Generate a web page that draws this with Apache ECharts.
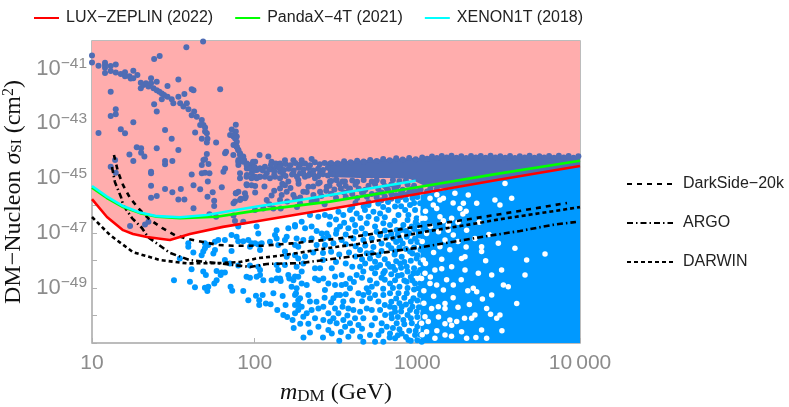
<!DOCTYPE html>
<html>
<head>
<meta charset="utf-8">
<style>html,body{margin:0;padding:0;background:#fff}#c{width:789px;height:407px}</style>
<script src="https://cdn.jsdelivr.net/npm/echarts@6/dist/echarts.min.js"></script>
</head>
<body>
<div id="c"></div>
<script>
// All pairs are [log10(m_DM / GeV), log10(sigma_SI / cm^2)]
const xTicks = {1:'10',2:'100',3:'1000',4:'10\u2009000'};
const yLabelled = [-41,-43,-45,-47,-49];

const luxZeplin = [[1,-45.76],[1.092,-46.41],[1.191,-46.89],[1.252,-47.03],[1.338,-47.14],[1.43,-47.21],[1.479,-47.25],[1.602,-47.03],[1.805,-46.77],[2.033,-46.55],[2.463,-46.12],[3,-45.57],[3.49,-45.06],[4,-44.55]];
const pandaX = [[1,-45.34],[1.092,-45.72],[1.191,-46.05],[1.295,-46.27],[1.40,-46.40],[1.541,-46.45],[1.768,-46.40],[1.91,-46.27],[2.033,-46.16],[2.463,-45.85],[3,-45.33],[3.49,-44.84],[4,-44.36]];
const xenon1T = [[1,-45.28],[1.092,-45.67],[1.191,-46.01],[1.295,-46.25],[1.40,-46.38],[1.541,-46.42],[1.707,-46.34],[1.848,-46.19],[2.033,-46.01],[2.26,-45.81],[2.463,-45.61],[2.99,-45.09]];
const darkSide = [[1.135,-44.15],[1.16,-44.77],[1.191,-45.25],[1.234,-45.72],[1.289,-46.12],[1.35,-46.48],[1.43,-46.81],[1.51,-47.07],[1.59,-47.21],[1.682,-47.32],[1.775,-47.43],[1.867,-47.46],[2.045,-47.46],[2.23,-47.37],[2.494,-47.21],[2.678,-47.07],[2.943,-46.81],[3.121,-46.67],[3.477,-46.34],[3.92,-45.90]];
const darwin = [[1,-46.41],[1.111,-47.07],[1.252,-47.69],[1.418,-47.98],[1.584,-48.10],[1.787,-48.09],[1.91,-48.05],[2.02,-47.91],[2.143,-47.83],[2.266,-47.72],[2.451,-47.54],[2.629,-47.40],[2.844,-47.18],[3.035,-46.96],[3.336,-46.67],[3.551,-46.45],[3.723,-46.30],[4,-46.05]];
const argo = [[1.123,-44.59],[1.141,-45.14],[1.178,-45.68],[1.191,-45.97],[1.246,-46.45],[1.307,-46.81],[1.344,-47.14],[1.479,-47.72],[1.602,-47.98],[1.768,-48.09],[1.971,-48.23],[2.076,-48.12],[2.279,-48.09],[2.475,-47.94],[2.666,-47.80],[2.813,-47.69],[3.035,-47.50],[3.244,-47.29],[3.434,-47.10],[3.631,-46.92],[3.828,-46.70],[3.975,-46.59]];

const darkTop = [[1.00,-40.53],[1.00,-40.78],[1.04,-40.90],[1.08,-40.79],[1.08,-40.87],[1.08,-40.97],[1.08,-41.17],[1.115,-40.91],[1.115,-41.09],[1.146,-40.86],[1.146,-41.15],[1.177,-41.20],[1.203,-41.14],[1.203,-41.28],[1.23,-41.28],[1.238,-41.37],[1.254,-41.08],[1.254,-41.36],[1.279,-41.24],[1.30,-41.52],[1.30,-41.72],[1.316,-41.60],[1.332,-41.54],[1.347,-41.66],[1.363,-41.36],[1.363,-41.54],[1.378,-41.72],[1.398,-41.48],[1.398,-41.79],[1.414,-41.85],[1.429,-41.91],[1.443,-41.97],[1.429,-42.12],[1.464,-41.64],[1.464,-42.03],[1.49,-42.12],[1.50,-42.27],[1.531,-41.40],[1.531,-42.03],[1.568,-41.93],[1.542,-42.27],[1.562,-42.39],[1.583,-42.27],[1.593,-42.49],[1.613,-41.76],[1.624,-41.79],[1.788,-41.76],[1.628,-42.57],[1.644,-42.76],[1.613,-42.70],[1.675,-42.88],[1.685,-43.06],[1.695,-43.15],[1.665,-43.06],[1.706,-43.36],[1.695,-43.30],[1.115,-41.85],[1.382,-40.66],[1.416,-40.55],[1.58,-40.23],[1.683,-40.02],[1.382,-42.30],[1.398,-42.57],[1.146,-42.49],[1.146,-42.67],[1.115,-42.73],[1.254,-42.96],[1.04,-43.35],[1.177,-43.21],[1.203,-43.36],[1.449,-43.24],[1.49,-43.56],[1.634,-43.33],[1.675,-43.56],[1.71,-43.56],[1.884,-43.05],[1.859,-43.22],[1.884,-43.30],[1.849,-43.42],[1.87,-43.48],[1.89,-43.48]];
const darkMiddle = [[1.706,-43.70],[1.763,-43.70],[1.275,-43.87],[1.302,-43.91],[1.302,-44.07],[1.23,-44.13],[1.398,-43.91],[1.531,-43.97],[1.322,-44.21],[1.254,-44.37],[1.115,-44.58],[1.146,-44.80],[1.142,-44.33],[1.363,-44.76],[1.363,-44.82],[1.449,-44.37],[1.449,-44.49],[1.494,-44.37],[1.675,-44.52],[1.685,-44.33],[1.716,-44.48],[1.706,-44.12],[1.695,-44.31],[1.675,-44.82],[1.695,-44.80],[1.722,-44.82],[1.613,-44.86],[1.808,-44.76],[1.818,-44.64],[1.818,-44.09],[1.824,-44.03],[1.363,-45.27],[1.449,-45.39],[1.494,-45.51],[1.546,-45.39],[1.624,-45.25],[1.665,-45.40],[1.742,-45.51],[1.798,-45.33],[1.712,-45.12],[1.363,-45.71],[1.398,-45.65],[1.531,-45.77],[1.568,-45.77],[1.71,-45.67],[1.751,-45.82],[1.751,-46.01],[1.624,-46.09],[1.87,-45.91],[1.884,-45.55],[1.90,-45.49],[1.915,-45.75],[1.945,-45.67],[2.003,-45.52],[2.003,-45.28],[1.952,-45.25],[1.722,-46.31],[1.763,-46.40],[1.87,-46.36],[1.326,-46.68],[1.347,-46.58],[1.234,-46.74],[1.87,-43.42],[1.88,-43.55],[1.89,-43.67],[1.87,-43.79],[1.89,-43.85],[1.90,-43.97],[1.91,-44.09],[1.921,-44.21],[1.935,-44.33],[1.952,-44.46],[1.972,-44.52],[1.992,-44.58],[2.013,-44.70],[2.034,-44.64],[2.003,-44.40],[1.952,-44.64],[1.90,-44.33],[1.90,-44.52],[1.982,-44.82],[1.952,-44.88],[2.003,-44.94],[2.034,-44.94]];
const darkBand = [[1.889,-43.85],[1.899,-43.97],[1.869,-44.15],[1.91,-44.15],[1.93,-44.21],[1.899,-44.40],[1.93,-44.40],[1.95,-44.52],[1.99,-44.40],[2.03,-44.15],[2.084,-44.21],[2.104,-44.40],[1.971,-44.64],[2.002,-44.70],[2.03,-44.64],[2.063,-44.58],[2.074,-44.82],[2.104,-44.64],[2.135,-44.58],[2.156,-44.46],[2.186,-44.34],[2.238,-44.34],[2.289,-44.34],[2.35,-44.30],[2.156,-44.76],[2.125,-44.94],[2.094,-45.00],[2.063,-44.94],[2.03,-44.94],[2.012,-45.00],[1.981,-45.00],[1.95,-44.94],[1.91,-44.82],[1.91,-45.00],[1.95,-45.22],[1.981,-45.25],[1.885,-45.55],[1.94,-45.55],[1.94,-45.73],[1.91,-45.79],[1.879,-45.85],[2.074,-45.79],[2.104,-45.63],[2.156,-45.37],[2.186,-45.25],[2.197,-45.49],[2.166,-45.61],[2.156,-45.79],[2.238,-45.61],[2.248,-45.73],[2.299,-45.49],[2.33,-45.31],[2.371,-45.00],[2.391,-45.19],[2.402,-45.49],[2.361,-45.61],[2.463,-45.12],[2.504,-45.06],[2.555,-45.12],[2.586,-45.37],[2.668,-45.49],[2.75,-45.61],[2.812,-45.37],[2.873,-45.31],[2.279,-45.91],[2.115,-46.10],[2.053,-46.10],[2.002,-46.16],[1.93,-46.58],[1.879,-46.56],[2.381,-45.79],[2.443,-45.31],[2.207,-45.12],[2.268,-45.06],[2.309,-44.94],[2.156,-45.00],[2.176,-44.86],[2.238,-44.82],[2.279,-44.82],[2.34,-44.82],[2.402,-44.82]];
const darkBandFill = [[2.10,-44.52],[2.13,-44.46],[2.16,-44.55],[2.19,-44.48],[2.22,-44.53],[2.25,-44.44],[2.28,-44.50],[2.31,-44.46],[2.34,-44.53],[2.37,-44.42],[2.40,-44.49],[2.43,-44.44],[2.46,-44.48],[2.00,-44.60],[2.05,-44.72],[2.09,-44.68],[2.12,-44.74],[2.15,-44.62],[2.18,-44.70],[2.21,-44.65],[2.24,-44.72],[2.27,-44.62],[2.30,-44.68],[2.33,-44.63],[2.36,-44.72],[2.39,-44.65],[2.42,-44.70],[2.45,-44.62],[2.12,-44.88],[2.19,-44.92],[2.23,-44.86],[2.26,-44.94],[2.30,-44.84],[2.33,-44.90],[2.36,-44.86],[2.39,-44.93],[2.42,-44.85],[2.45,-44.90],[2.48,-44.86],[2.06,-45.30],[2.12,-45.45],[2.17,-45.20],[2.22,-45.35],[2.27,-45.20],[2.32,-45.50],[2.36,-45.30],[2.41,-45.65],[2.28,-45.70],[2.20,-45.85],[2.09,-45.95],[2.35,-45.85],[2.43,-45.95],[2.26,-46.05],[2.16,-46.10],[2.40,-45.15],[2.44,-45.45]];
const darkBandTop = [[2.47,-44.44],[2.51,-44.45],[2.55,-44.38],[2.59,-44.42],[2.63,-44.36],[2.67,-44.39],[2.71,-44.33],[2.75,-44.37],[2.79,-44.30],[2.83,-44.34],[2.87,-44.27],[2.91,-44.32],[2.95,-44.26],[2.99,-44.31],[3.03,-44.24],[3.06,-44.29],[3.09,-44.21],[3.12,-44.26],[3.15,-44.19],[3.18,-44.24],[3.21,-44.18],[3.24,-44.25],[3.27,-44.20],[3.30,-44.26],[3.33,-44.19],[3.36,-44.24],[3.39,-44.19],[3.42,-44.25],[3.45,-44.18],[3.48,-44.24],[3.51,-44.20],[3.54,-44.25],[3.57,-44.19],[3.60,-44.26],[3.63,-44.20],[3.66,-44.24],[3.69,-44.18],[3.72,-44.25],[3.75,-44.20],[3.78,-44.24],[3.81,-44.19],[3.84,-44.25],[3.87,-44.18],[3.90,-44.24],[3.93,-44.19],[3.96,-44.25],[3.99,-44.20]];
const darkBandLower = [[2.47,-45.10],[2.50,-45.05],[2.54,-45.12],[2.60,-45.08],[2.63,-45.13],[2.67,-45.06],[2.72,-45.12],[2.75,-45.07],[2.79,-45.13],[2.85,-45.06],[2.89,-45.11],[2.93,-45.08],[2.46,-45.27],[2.52,-45.22],[2.56,-45.28],[2.62,-45.24],[2.70,-45.27],[2.74,-45.22],[2.80,-45.28],[2.84,-45.23],[2.88,-45.26],[2.94,-45.23],[2.98,-45.27],[2.49,-45.41],[2.53,-45.37],[2.58,-45.43],[2.64,-45.38],[2.68,-45.42],[2.76,-45.39],[2.82,-45.43],[2.86,-45.38],[2.91,-45.42],[2.97,-45.37],[3.02,-45.41],[3.08,-45.37],[2.47,-45.56],[2.55,-45.52],[2.60,-45.57],[2.66,-45.53],[2.72,-45.57],[2.78,-45.52],[2.84,-45.56],[2.90,-45.53],[2.95,-45.50],[3.00,-45.47],[3.06,-45.48],[3.12,-45.40],[2.50,-45.71],[2.56,-45.68],[2.63,-45.72],[2.69,-45.67],[2.75,-45.70],[2.80,-45.66],[2.87,-45.62],[2.93,-45.60],[2.98,-45.55],[2.78,-45.80],[2.84,-45.75],[2.90,-45.68],[2.62,-45.90],[2.70,-45.87]];
const darkDenseOutline = [[2.45,-44.42],[2.678,-44.33],[2.875,-44.28],[3.078,-44.24],[3.324,-44.22],[4,-44.22],[4,-44.55],[3.182,-45.39],[3.047,-45.28],[2.955,-45.03],[2.832,-44.99],[2.647,-44.99],[2.45,-44.95]];

const lightLow = [[1.504,-48.71],[1.602,-48.77],[1.633,-48.97],[1.694,-48.99],[1.715,-48.95],[1.709,-49.11],[1.752,-48.83],[1.766,-48.71],[1.791,-48.52],[1.797,-48.43],[1.817,-48.43],[1.766,-48.38],[1.684,-48.40],[1.70,-48.52],[1.612,-48.31],[1.54,-47.92],[1.592,-47.37],[1.592,-47.49],[1.623,-47.70],[1.674,-47.80],[1.694,-47.55],[1.684,-47.67],[1.715,-47.43],[1.694,-47.37],[1.746,-47.74],[1.756,-47.61],[1.756,-47.31],[1.776,-47.25],[1.817,-47.25],[1.858,-47.07],[1.889,-47.13],[1.899,-47.29],[1.858,-47.65],[1.93,-47.29],[1.961,-47.25],[1.981,-47.37],[1.971,-47.49],[2.002,-47.37],[2.022,-47.41],[2.043,-47.37],[2.033,-47.61],[2.094,-47.31],[2.135,-46.89],[2.125,-47.07],[2.135,-47.19],[2.145,-47.43],[2.186,-47.25],[2.197,-47.13],[2.207,-46.82],[2.248,-46.76],[2.258,-47.19],[2.268,-47.49],[2.186,-47.67],[2.248,-47.80],[2.268,-47.92],[2.197,-47.86],[2.135,-48.16],[2.145,-48.34],[2.186,-48.16],[2.012,-46.76],[2.022,-47.01],[1.899,-46.76],[1.817,-47.98],[1.848,-48.10],[1.899,-48.18],[1.971,-48.18],[2.022,-48.22],[2.033,-48.34],[1.95,-48.59],[1.971,-48.62],[2.012,-48.59],[2.033,-48.52],[2.053,-48.71],[2.104,-48.71],[2.135,-48.65],[2.156,-48.65],[2.16,-48.74],[2.207,-48.52],[2.213,-48.65],[2.268,-48.59],[2.238,-48.71],[2.227,-48.95],[1.852,-48.95],[1.862,-49.10],[1.93,-49.11],[1.961,-49.44],[2.008,-49.28],[2.028,-49.44],[2.049,-49.25],[2.028,-49.62],[2.069,-49.56],[2.098,-49.59],[2.115,-49.19],[2.172,-49.29],[2.19,-49.62],[2.139,-49.80],[2.176,-49.98],[2.233,-50.16],[2.248,-49.92],[2.254,-49.19],[2.268,-49.44],[2.268,-49.62],[2.268,-49.80]];
const lightHighMass = [[2.248,-46.70],[2.289,-46.58],[2.31,-46.82],[2.35,-46.76],[2.381,-46.92],[2.34,-46.34],[2.391,-46.40],[2.432,-46.34],[2.463,-46.40],[2.515,-46.22],[2.545,-46.34],[2.586,-46.16],[2.627,-46.28],[2.678,-46.16],[2.73,-46.22],[2.771,-46.28],[2.822,-46.16],[2.863,-46.03],[2.884,-46.34],[2.925,-46.16],[2.955,-45.97],[2.986,-46.16],[3.017,-45.91],[2.945,-46.34],[2.996,-46.46],[3.037,-46.22],[3.037,-46.64],[2.412,-47.01],[2.443,-47.01],[2.422,-47.19],[2.453,-47.13],[2.504,-46.88],[2.525,-46.76],[2.576,-46.82],[2.617,-46.70],[2.658,-46.82],[2.689,-46.64],[2.74,-46.76],[2.791,-46.64],[2.832,-46.70],[2.873,-46.88],[2.914,-46.70],[2.966,-46.76],[3.007,-46.95],[3.037,-47.07],[2.248,-47.43],[2.299,-47.25],[2.35,-47.19],[2.381,-47.43],[2.432,-47.43],[2.484,-47.37],[2.535,-47.25],[2.607,-47.19],[2.668,-47.25],[2.72,-47.19],[2.771,-47.07],[2.812,-47.13],[2.853,-47.19],[2.894,-47.25],[2.935,-47.13],[2.986,-47.19],[3.027,-47.43],[2.709,-47.92],[2.74,-48.04],[2.771,-48.16],[2.822,-47.43],[2.863,-47.67],[2.904,-47.86],[2.955,-47.67],[2.996,-47.92],[3.037,-47.86],[2.648,-47.61],[2.689,-47.73],[2.761,-47.80],[2.299,-48.10],[2.258,-48.22],[2.289,-48.40],[2.371,-48.28],[2.402,-48.28],[2.371,-48.65],[2.392,-48.71],[2.422,-48.65],[2.248,-48.58],[2.289,-48.83],[2.32,-48.89],[2.258,-49.01],[2.474,-48.28],[2.494,-48.58],[2.535,-48.52],[2.586,-48.65],[2.627,-48.52],[2.668,-48.40],[2.679,-48.10],[2.648,-48.22],[2.72,-48.28],[2.74,-48.46],[2.709,-48.71],[2.689,-49.01],[2.75,-48.83],[2.791,-48.46],[2.832,-48.22],[2.863,-48.34],[2.894,-48.10],[2.935,-48.22],[2.976,-48.46],[3.017,-48.34],[3.037,-48.65],[2.904,-48.52],[2.863,-48.71],[2.832,-48.83],[2.935,-48.77],[2.986,-48.83],[3.007,-49.01],[3.037,-49.07],[2.432,-49.07],[2.453,-48.83],[2.494,-48.89],[2.535,-48.89],[2.586,-49.01],[2.638,-49.19],[2.668,-49.25],[2.709,-49.37],[2.761,-49.49],[2.791,-49.25],[2.832,-49.19],[2.884,-49.19],[2.935,-49.19],[2.976,-49.37],[3.017,-49.25],[3.037,-49.49],[2.248,-49.25],[2.279,-49.37],[2.248,-49.62],[2.289,-49.68],[2.33,-49.25],[2.34,-49.49],[2.35,-49.80],[2.32,-49.92],[2.299,-50.04],[2.392,-49.74],[2.422,-49.68],[2.371,-50.10],[2.422,-50.16],[2.392,-50.41],[2.453,-49.92],[2.463,-50.22],[2.504,-49.25],[2.484,-49.37],[2.525,-49.25],[2.545,-49.49],[2.494,-49.74],[2.515,-49.92],[2.484,-50.10],[2.545,-50.16],[2.504,-50.28],[2.576,-49.74],[2.607,-49.80],[2.617,-50.10],[2.586,-50.28],[2.556,-50.41],[2.648,-49.86],[2.689,-49.74],[2.72,-49.80],[2.668,-50.10],[2.638,-50.34],[2.74,-50.10],[2.771,-49.80],[2.802,-49.98],[2.832,-49.68],[2.863,-49.86],[2.904,-49.68],[2.955,-49.80],[2.996,-49.86],[3.037,-49.92],[2.781,-50.28],[2.812,-50.41],[2.843,-50.10],[2.873,-50.28],[2.914,-50.16],[2.966,-50.28],[3.017,-50.28],[2.474,-50.65],[2.453,-50.53],[2.576,-50.77],[2.648,-50.77],[2.668,-50.95],[2.709,-50.71],[2.761,-50.71],[2.74,-50.95],[2.791,-50.95],[2.832,-50.65],[2.863,-50.83],[2.904,-50.65],[2.945,-50.89],[2.986,-50.71],[3.027,-50.95]];
const lightFill = [[2.60,-46.05],[2.67,-46.03],[2.70,-45.97],[2.76,-45.92],[2.82,-45.86],[2.88,-45.82],[2.93,-45.78],[2.97,-45.72],[3.00,-45.68],[2.90,-46.02],[2.79,-46.05],[2.98,-45.90],
[2.86,-46.55],[2.94,-46.52],[2.99,-46.60],[2.90,-46.88],[2.93,-46.92],[2.98,-46.85],[3.00,-46.70],[2.84,-47.02],[2.88,-47.06],[2.95,-47.00],[3.01,-47.08],[2.87,-47.32],[2.91,-47.38],[2.96,-47.30],[3.00,-47.32],[2.84,-47.55],[2.89,-47.52],[2.93,-47.58],[2.98,-47.52],[3.02,-47.60],[2.86,-47.78],[2.97,-47.74],[3.00,-47.80],[2.87,-48.02],[2.92,-48.05],[2.96,-48.00],[3.02,-48.08],[2.82,-48.12],[2.85,-48.22],[2.90,-48.26],[2.94,-48.40],[2.98,-48.28],[3.00,-48.45],[2.84,-48.50],[2.88,-48.55],[2.96,-48.60],[2.92,-48.72],[2.97,-48.72],[3.02,-48.82],[2.80,-48.70],[2.85,-49.00],[2.89,-48.95],[2.94,-49.00],[2.98,-49.05],[3.02,-49.20],[2.87,-49.38],[2.92,-49.35],[2.96,-49.50],[3.00,-49.45],[2.84,-49.50],[2.89,-49.55],[2.93,-49.60],[3.01,-49.70],[2.86,-49.72],[2.97,-49.68],[2.90,-49.85],[2.94,-49.98],[3.00,-50.05],[2.84,-49.95],[2.88,-50.05],[2.96,-50.10],[2.92,-50.32],[3.00,-50.40],[2.85,-50.45],[2.89,-50.50],[2.95,-50.55],[2.99,-50.55],[3.02,-50.70],[2.88,-50.72],[2.93,-50.78],[2.83,-50.80],[2.96,-50.92],[3.00,-50.90],
[2.50,-46.50],[2.55,-46.62],[2.60,-46.50],[2.65,-46.45],[2.70,-46.40],[2.75,-46.48],[2.80,-46.42],[2.46,-46.68],[2.50,-47.02],[2.56,-47.05],[2.62,-46.95],[2.68,-47.02],[2.75,-46.95],[2.80,-46.90],[2.56,-47.40],[2.62,-47.48],[2.68,-47.45],[2.73,-47.50],[2.78,-47.38],[2.58,-47.70],[2.62,-47.85],[2.66,-47.95],[2.72,-47.72],[2.78,-47.65],[2.80,-47.95],[2.52,-47.78],[2.47,-47.68],[2.42,-47.72],[2.36,-47.70],[2.31,-47.85],[2.42,-47.98],[2.50,-48.05],[2.56,-48.10],[2.60,-48.22],[2.75,-48.24],[2.80,-48.38],[2.78,-48.62],[2.66,-48.62],[2.61,-48.78],[2.56,-48.85],[2.72,-48.95],[2.79,-49.02],[2.70,-49.15],[2.56,-49.22],[2.47,-49.52],[2.60,-49.45],[2.66,-49.48],[2.74,-49.25],[2.80,-49.62],[2.54,-49.68],[2.43,-49.35],[2.38,-49.50],[2.57,-50.00],[2.66,-50.48],[2.72,-50.35],[2.78,-50.55],[2.60,-50.55],[2.53,-50.60],[2.42,-50.80],[2.52,-50.92],[2.34,-50.62],[2.28,-50.30],[2.33,-50.30],[2.20,-50.05],[2.24,-50.45],[2.30,-50.80]];
const lightDenseOutline = [[3.02,-45.60],[3.49,-45.06],[4,-44.55],[4,-51],[3.02,-51]];
const lightGaps = [[3.098,-45.97],[3.139,-45.79],[3.119,-46.10],[3.262,-46.10],[3.283,-45.91],[3.231,-45.55],[3.221,-47.07],[3.19,-46.89],[3.139,-47.49],[3.047,-46.46],[3.026,-46.46],[3.057,-47.01],[3.17,-47.25],[3.211,-46.46],[3.303,-46.89],[3.037,-47.98],[3.108,-48.34],[3.211,-48.22],[3.047,-48.46],[3.119,-48.89],[3.221,-48.89],[3.17,-49.56],[3.129,-49.68],[3.047,-50.04],[3.026,-50.28],[3.057,-50.59],[3.108,-50.83],[3.17,-50.71],[3.242,-50.22],[3.272,-50.59],[3.303,-50.83],[3.17,-49.74],[3.293,-48.34],[3.375,-48.46],[3.395,-47.67],[3.395,-47.49],[3.272,-47.92],[3.498,-47.37],[3.518,-48.34],[3.529,-48.89],[3.344,-49.01],[3.365,-49.13],[3.457,-49.25],[3.488,-50.10],[3.508,-49.98],[3.611,-49.56],[3.395,-50.53],[3.426,-50.83],[3.026,-48.65],[3.078,-48.83],[3.16,-49.07],[3.088,-49.74],[3.067,-50.22],[3.2,-50.16],[3.211,-50.35],[3.354,-49.98],[3.334,-50.10],[3.457,-48.52],[3.293,-47.86],[3.58,-45.73],[3.477,-45.79],[3.508,-45.97],[3.365,-45.91],[3.539,-45.19],[3.672,-47.98],[3.662,-48.52],[3.785,-47.76],[3.60,-47.55],[3.354,-47.19],[3.313,-45.61],[3.078,-45.73],[3.16,-45.73],[3.19,-46.70],[3.139,-46.40],[3.426,-49.74],[3.559,-48.95],[3.05,-46.20],[3.08,-46.75],[3.13,-46.95],[3.16,-46.55],[3.25,-46.60],[3.28,-46.30],[3.03,-47.30],[3.10,-47.70],[3.15,-47.95],[3.20,-47.60],[3.25,-47.30],[3.30,-47.50],[3.05,-48.10],[3.08,-48.60],[3.15,-48.30],[3.18,-48.70],[3.27,-48.70],[3.31,-49.10],[3.04,-49.10],[3.10,-49.30],[3.22,-49.35],[3.25,-49.70],[3.04,-49.55],[3.13,-50.05],[3.17,-50.30],[3.29,-50.10],[3.32,-49.60],[3.03,-50.70],[3.12,-50.55],[3.21,-50.75],[3.36,-50.80],[3.42,-48.00],[3.38,-46.60],[3.44,-47.05],[3.45,-49.95],[3.40,-49.40],[3.52,-50.55],[3.30,-46.20],[3.22,-45.90],[3.12,-45.60]];

const DARK = '#4f6cb4', LIGHT = '#0099ff', PINK = '#ffadad';

function polygon(points, color, z){
  return {type:'custom', silent:true, z, clip:true, coordinateSystem:'cartesian2d',
    data:[points[0]], encode:{x:0,y:1},
    renderItem:(params,api)=>({type:'polygon',
      shape:{points:points.map(p=>api.coord(p))},
      style:{fill:color}})};
}
const dots = (data,color,z,size)=>({type:'scatter',silent:true,z,symbolSize:size,
  data,itemStyle:{color,opacity:1}});
const line = (name,data,color,z,type)=>({name,type:'line',z,symbol:'none',smooth:false,silent:true,
  data,lineStyle:{color,width:2.6,type:type||'solid',cap:'butt',join:'round'},itemStyle:{color}});

const hiddenMarker = {opacity:0,color:'transparent',borderWidth:0};
const option = {
  animation:false,
  backgroundColor:'#fff',
  grid:{left:92,right:209,top:41,bottom:64,show:true,borderColor:'#a6a6a6',borderWidth:1.5,backgroundColor:'transparent',outerBoundsMode:'none',containLabel:false},
  legend:[
    {left:33,top:10,itemWidth:25,itemHeight:10,itemGap:21,padding:0,selectedMode:false,itemStyle:hiddenMarker,
     data:['LUX\u2212ZEPLIN (2022)','PandaX\u22124T (2021)','XENON1T (2018)'],
     textStyle:{fontFamily:'Liberation Sans',fontSize:16,color:'#222',padding:[0,0,0,2]}},
    {left:626,top:176,orient:'vertical',itemWidth:46,itemHeight:14,itemGap:23,padding:0,selectedMode:false,itemStyle:hiddenMarker,
     data:['DarkSide\u221220k','ARGO','DARWIN'],
     textStyle:{fontFamily:'Liberation Sans',fontSize:16,color:'#222',padding:[0,0,0,5]}}
  ],
  xAxis:{type:'value',min:1,max:4,interval:1,
    name:'{i|m}{s|DM}{r| (GeV)}',nameLocation:'middle',nameGap:37,
    nameTextStyle:{rich:{
      i:{fontFamily:'Liberation Serif',fontStyle:'italic',fontSize:24,color:'#111'},
      s:{fontFamily:'Liberation Serif',fontSize:17,color:'#111',padding:[8,0,0,0]},
      r:{fontFamily:'Liberation Serif',fontSize:24,color:'#111'}}},
    axisLine:{show:false},splitLine:{show:false},minorTick:{show:false},
    axisTick:{inside:true,length:5,lineStyle:{color:'#b0b0b0'}},
    axisLabel:{margin:10,fontFamily:'Liberation Sans',fontSize:21,color:'#8c8c8c',hideOverlap:false,showMinLabel:true,showMaxLabel:true,
      formatter:v=>xTicks[Math.round(v)]||''}},
  yAxis:{type:'value',min:-51,max:-40,interval:1,
    name:'{r|DM\u2212Nucleon }{i|\u03c3}{s|SI}{r| (cm}{u|2}{r|)}',nameLocation:'middle',nameGap:62,nameRotate:90,
    nameTextStyle:{rich:{
      r:{fontFamily:'Liberation Serif',fontSize:24,color:'#111'},
      i:{fontFamily:'Liberation Serif',fontStyle:'italic',fontSize:24,color:'#111'},
      s:{fontFamily:'Liberation Serif',fontSize:15,color:'#111',padding:[8,0,0,0]},
      u:{fontFamily:'Liberation Serif',fontSize:16,color:'#111',padding:[0,0,10,0]}}},
    axisLine:{show:false},splitLine:{show:false},minorTick:{show:false},
    axisTick:{inside:true,length:5,lineStyle:{color:'#b0b0b0'}},
    axisLabel:{margin:5,hideOverlap:false,showMinLabel:true,showMaxLabel:true,
      formatter:v=>{const e=Math.round(v);return yLabelled.includes(e)?'{b|10}{e|\u2212'+Math.abs(e)+'}':'';},
      rich:{b:{fontFamily:'Liberation Sans',fontSize:22,color:'#8c8c8c'},
            e:{fontFamily:'Liberation Sans',fontSize:15.5,color:'#8c8c8c',padding:[0,0,10,0]}}}},
  series:[
    {type:'line',silent:true,z:1,symbol:'none',data:luxZeplin,lineStyle:{width:0},
      areaStyle:{color:PINK,opacity:1,origin:'end'}},
    dots(darkTop,DARK,3,6),dots(darkMiddle,DARK,3,6),dots(darkBand,DARK,3,6),
    dots(darkBandFill,DARK,3,6),dots(darkBandTop,DARK,3,6),dots(darkBandLower,DARK,3,6),
    polygon(darkDenseOutline,DARK,3),
    polygon(lightDenseOutline,LIGHT,4),
    dots(lightLow,LIGHT,5,6),dots(lightHighMass,LIGHT,5,6),dots(lightFill,LIGHT,5,6),
    dots(lightGaps,'#ffffff',6,5.5),
    line('XENON1T (2018)',xenon1T,'#00ffff',9),
    line('PandaX\u22124T (2021)',pandaX,'#00ff00',8),
    line('LUX\u2212ZEPLIN (2022)',luxZeplin,'#ff0000',10),
    line('DarkSide\u221220k',darkSide,'#000',7,[5,5]),
    line('ARGO',argo,'#000',7,[6,3,1.5,3]),
    line('DARWIN',darwin,'#000',7,[4,3])
  ]
};
const chart = echarts.init(document.getElementById('c'),null,{renderer:'canvas'});
chart.setOption(option);
</script>
</body>
</html>
